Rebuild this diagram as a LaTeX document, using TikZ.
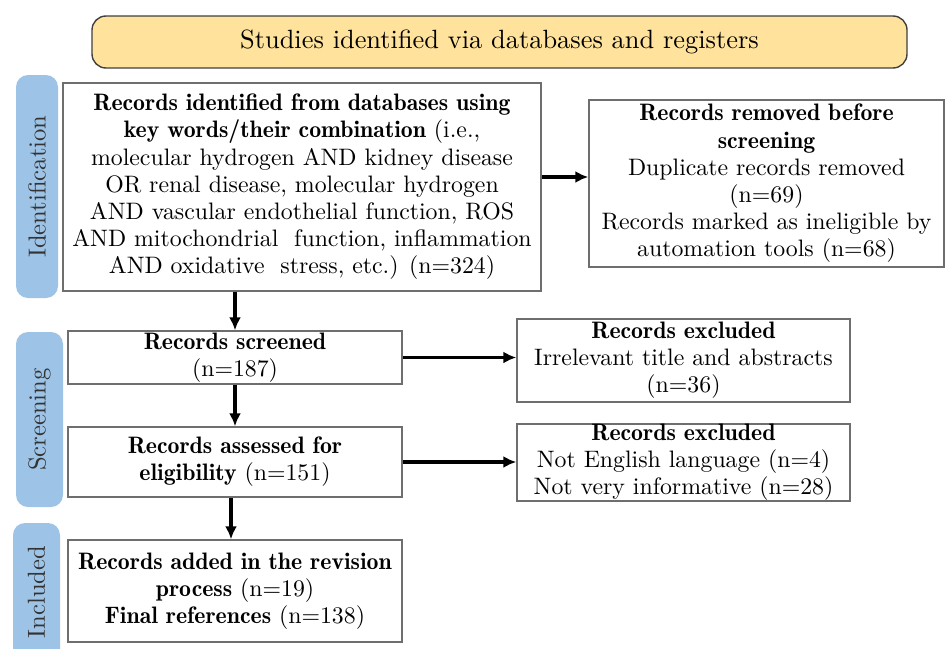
\documentclass[tikz,border=0pt]{standalone}
\usepackage{fontspec}
\setmainfont{lmroman10-regular.otf}[BoldFont=lmromandemi10-regular.otf]
\usetikzlibrary{arrows.meta}
\definecolor{titlefill}{RGB}{255,226,155}
\definecolor{stagefill}{RGB}{157,195,230}
\definecolor{boxline}{RGB}{110,110,110}
\tikzset{
	box/.style={draw=boxline, line width=0.7pt, fill=white, inner sep=0pt, align=center, font=\fontsize{11.9}{13.6}\selectfont},
	stage/.style={rounded corners=6pt, fill=stagefill, rotate=90, inner sep=0pt, text=black!80, font=\fontsize{12.3}{15}\selectfont},
	flow/.style={-{Latex[length=6.5pt,width=6pt]}, line width=1.6pt},
}
\begin{document}
\begin{tikzpicture}[x=0.5pt, y=-0.5pt]
	\useasboundingbox (0,0) rectangle (945,648);
	\node (title) at (499.5,42) [draw=black!75, line width=0.7pt, fill=titlefill, rounded corners=7pt, minimum width=407.5pt, minimum height=26pt, font=\fontsize{13.2}{16}\selectfont] {Studies identified via databases and registers};
	\node (ident) at (37,186.5) [stage, minimum width=111.5pt, minimum height=21pt] {Identification};
	\node (screen) at (39.5,419.5) [stage, minimum width=87.5pt, minimum height=23.5pt] {Screening};
	\node (incl) at (36.5,592) [stage, minimum width=69pt, minimum height=23.5pt] {Included};
	\node (found) at (302,187) [box, minimum width=239pt, minimum height=104pt] {\textbf{Records identified from databases using}\\ \textbf{key words/their combination} (i.e.,\\ molecular hydrogen AND kidney disease\\ OR renal disease, molecular hydrogen\\ AND vascular endothelial function, ROS\\ AND mitochondrial \ function, inflammation\\ AND oxidative \ stress, etc.) (n=324)};
	\node (removed) at (766.5,183.5) [box, minimum width=177.5pt, minimum height=83.5pt] {\textbf{Records removed before}\\ \textbf{screening}\\ Duplicate records removed\\ (n=69)\\ Records marked as ineligible by\\ automation tools (n=68)};
	\node (screened) at (235,357.5) [box, minimum width=167pt, minimum height=26.5pt] {\textbf{Records screened}\\ (n=187)};
	\node (assessed) at (235,462) [box, minimum width=167pt, minimum height=35pt] {\textbf{Records assessed for}\\ \textbf{eligibility} (n=151)};
	\node (added) at (235,591) [box, minimum width=167pt, minimum height=51pt] {\textbf{Records added in the revision}\\ \textbf{process} (n=19)\\ \textbf{Final references} (n=138)};
	\node (excl1) at (683.5,360.5) [box, minimum width=166.5pt, minimum height=41.5pt] {\textbf{Records excluded}\\ Irrelevant title and abstracts\\ (n=36)};
	\node (excl2) at (683.5,462.5) [box, minimum width=166.5pt, minimum height=37.5pt] {\textbf{Records excluded}\\ Not English language (n=4)\\ Not very informative (n=28)};
	% arrows
	\draw[flow] (found.south -| screened.north) -- (screened.north);
	\draw[flow] (found.east |- 0,177) -- (removed.west |- 0,177);
	\draw[flow] (screened) -- (assessed);
	\draw[flow] (assessed.south -| 231,0) -- (added.north -| 231,0);
	\draw[flow] (screened.east) -- (screened.east -| excl1.west);
	\draw[flow] (assessed.east) -- (assessed.east -| excl2.west);
\end{tikzpicture}
\end{document}
